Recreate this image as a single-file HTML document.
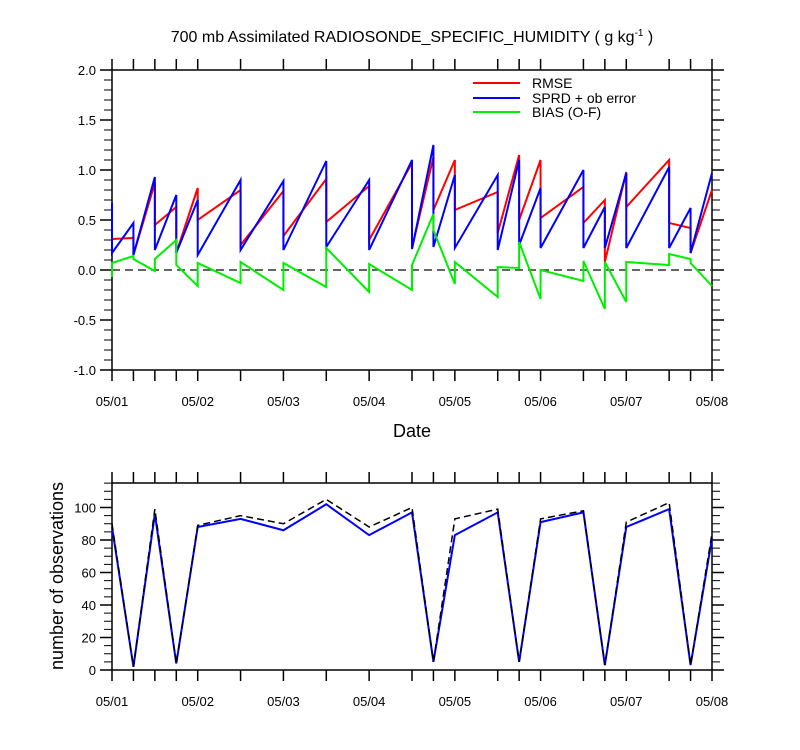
<!DOCTYPE html>
<html><head><meta charset="utf-8"><style>
html,body{margin:0;padding:0;background:#fff}
svg{display:block;font-family:"Liberation Sans",sans-serif}
</style></head><body>
<svg id="chart" width="800" height="750" viewBox="0 0 800 750">
<text x="412" y="42" text-anchor="middle" font-size="16">700 mb Assimilated RADIOSONDE_SPECIFIC_HUMIDITY ( g kg<tspan dy="-6" font-size="10">-1</tspan><tspan dy="6"> )</tspan></text>
<g id="topPanel"></g>
<g id="botPanel"></g>
<text x="412" y="437" text-anchor="middle" font-size="18">Date</text>
<text transform="translate(63,576) rotate(-90)" text-anchor="middle" font-size="18">number of observations</text>
<g>
<line x1="473" y1="83" x2="520" y2="83" stroke="#f00" stroke-width="2"/>
<text x="532" y="88" font-size="14">RMSE</text>
<line x1="473" y1="98" x2="520" y2="98" stroke="#00f" stroke-width="2"/>
<text x="532" y="103" font-size="14">SPRD + ob error</text>
<line x1="473" y1="112" x2="520" y2="112" stroke="#0e0" stroke-width="2"/>
<text x="532" y="117" font-size="14">BIAS (O-F)</text>
</g>
</svg>
<script>
// times in days since 05/01 00Z
const times = [0,0.25,0.5,0.75,1,1.5,2,2.5,3,3.5,3.75,4,4.5,4.75,5,5.5,5.75,6,6.5,6.75,7];
const dateLabels = ["05/01","05/02","05/03","05/04","05/05","05/06","05/07","05/08"];
// each time: value arriving (A) then value after jump (B)
const rmseA = [0.31,0.32,0.87,0.63,0.82,0.80,0.79,0.91,0.84,1.07,1.13,1.10,0.78,1.15,1.10,0.83,0.70,0.98,1.10,0.42,0.80];
const rmseB = [0.31,0.15,0.45,0.17,0.50,0.25,0.34,0.48,0.30,0.22,0.60,0.60,0.37,0.50,0.52,0.47,0.08,0.63,0.47,0.17,0.80];
const sprdA = [0.67,0.47,0.93,0.75,0.70,0.90,0.89,1.09,0.90,1.10,1.25,0.95,0.95,1.10,0.82,1.00,0.63,0.97,1.03,0.62,0.97];
const sprdB = [0.17,0.15,0.20,0.17,0.15,0.20,0.20,0.23,0.20,0.21,0.23,0.22,0.20,0.25,0.22,0.22,0.22,0.22,0.22,0.17,0.97];
const biasA = [-0.07,0.14,-0.01,0.30,-0.16,-0.13,-0.20,-0.17,-0.22,-0.20,0.56,-0.14,-0.27,0.02,-0.29,-0.11,-0.39,-0.32,0.05,0.11,-0.16];
const biasB = [0.07,0.11,0.11,0.05,0.07,0.08,0.07,0.22,0.06,0.05,0.40,0.08,0.03,0.28,0.00,0.09,0.08,0.08,0.16,0.07,-0.16];
const obsUsed = [88,2,96,4,88,93,86,102,83,97,5,83,97,5,91,97,3,88,99,3,81];
const obsTotal = [90,2,99,4,89,95,90,105,88,100,5,93,99,5,93,98,3,91,103,3,84];
const topTicks = [-1.0,-0.5,0.0,0.5,1.0,1.5,2.0];
const botTicks = [0,20,40,60,80,100];

const NS="http://www.w3.org/2000/svg";
const X0=112,X1=712;
const xs=t=>X0+(X1-X0)*t/7;
const yT=v=>270-100*v;
const yB=v=>670-1.625*v;
function mk(tag,attrs,parent){const e=document.createElementNS(NS,tag);for(const k in attrs)e.setAttribute(k,attrs[k]);parent.appendChild(e);return e;}

function axes(g,yTop,yBot,ticks,minStep,yf,fmt,lo,hi,prefix){
  const box=mk('rect',{x:X0,y:yTop,width:X1-X0,height:yBot-yTop,fill:'none',stroke:'#000','stroke-width':1.5},g);
  
  
  for(const t of times){
    const l1=mk('line',{x1:xs(t),x2:xs(t),y1:yTop,y2:yTop-11,stroke:'#000','stroke-width':1.5},g);
    
    
    const l2=mk('line',{x1:xs(t),x2:xs(t),y1:yBot,y2:yBot+11,stroke:'#000','stroke-width':1.5},g);
    
    
  }
  dateLabels.forEach((d,i)=>{
    const tx=mk('text',{x:xs(i),y:yBot+36,'text-anchor':'middle','font-size':13},g);
    tx.textContent=d;
    
    
  });
  for(let v=lo;v<=hi+1e-9;v+=minStep){
    const major=ticks.some(m=>Math.abs(m-v)<1e-6);
    const len=major?12:8;
    const a=mk('line',{x1:X0,x2:X0-len,y1:yf(v),y2:yf(v),stroke:'#000','stroke-width':major?1.5:1},g);
    
    
    const b=mk('line',{x1:X1,x2:X1+len,y1:yf(v),y2:yf(v),stroke:'#000','stroke-width':major?1.5:1},g);
    
    
  }
  ticks.forEach(v=>{
    const tx=mk('text',{x:X0-16,y:yf(v)+5,'text-anchor':'end','font-size':13},g);
    tx.textContent=fmt(v);
    
    
  });
}
function saw(A,B){let p=[];times.forEach((t,i)=>{p.push(xs(t)+','+yT(A[i]));p.push(xs(t)+','+yT(B[i]));});return p.join(' ');}

const topG=document.getElementById('topPanel');
axes(topG,70,370,topTicks,0.1,yT,v=>v.toFixed(1),-1.0,2.0,'top');
const zl=mk('line',{x1:X0,x2:X1,y1:yT(0),y2:yT(0),stroke:'#333','stroke-width':1.5,'stroke-dasharray':'8,5'},topG);


const rm=mk('polyline',{points:saw(rmseA,rmseB),fill:'none',stroke:'#f00','stroke-width':2},topG);


const sp=mk('polyline',{points:saw(sprdA,sprdB),fill:'none',stroke:'#00f','stroke-width':2},topG);


const bi=mk('polyline',{points:saw(biasA,biasB),fill:'none',stroke:'#0e0','stroke-width':2},topG);



const botG=document.getElementById('botPanel');
axes(botG,483,670,botTicks,5,yB,v=>String(v),0,115,'bottom');
const ul=mk('polyline',{points:times.map((t,i)=>xs(t)+','+yB(obsUsed[i])).join(' '),fill:'none',stroke:'#00f','stroke-width':2},botG);


const tl=mk('polyline',{points:times.map((t,i)=>xs(t)+','+yB(obsTotal[i])).join(' '),fill:'none',stroke:'#000','stroke-width':1.5,'stroke-dasharray':'7,4'},botG);


</script>
</body></html>
